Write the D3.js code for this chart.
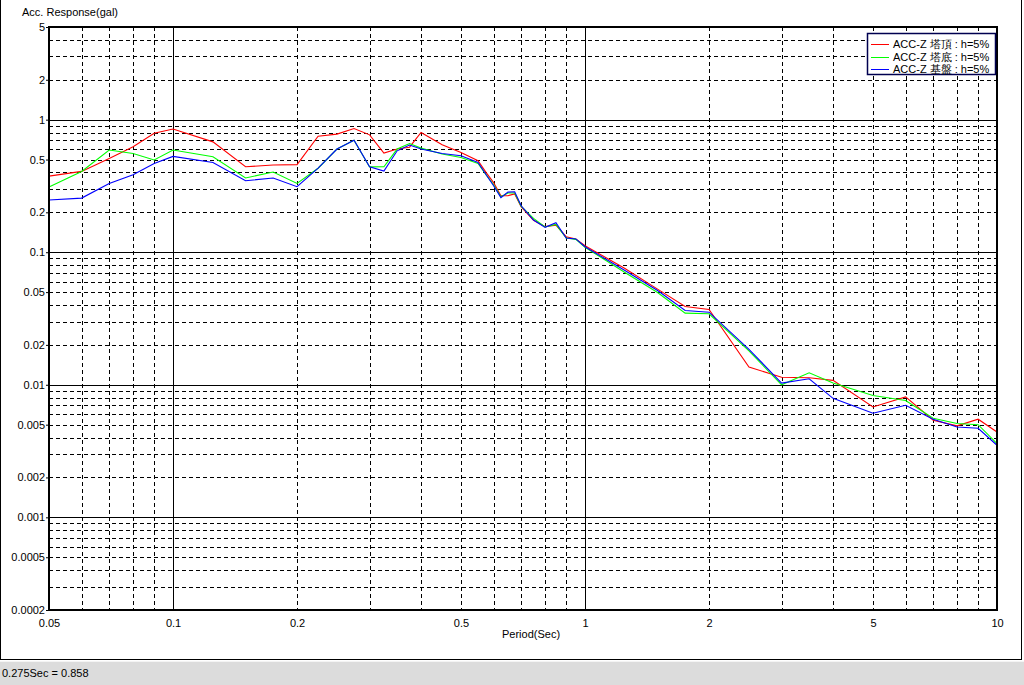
<!DOCTYPE html>
<html>
<head>
<meta charset="utf-8">
<script src="https://cdn.jsdelivr.net/npm/d3@7"></script>
<style>
  html, body { margin: 0; padding: 0; background: #ffffff; }
  svg { display: block; font-family: "Liberation Sans", Arial, sans-serif; }
</style>
</head>
<body>
<svg id="chart" width="1024" height="685"></svg>
<script>
// ---- data ----
const periods = [0.05,0.06,0.07,0.08,0.09,0.1,0.125,0.15,0.175,0.2,0.225,0.25,0.275,0.3,0.325,0.35,0.375,0.4,0.45,0.5,0.55,0.575,0.6,0.625,0.65,0.675,0.7,0.75,0.8,0.85,0.9,0.95,1.0,1.25,1.5,1.75,2.0,2.5,3.0,3.5,4.0,5.0,6.0,7.0,8.0,9.0,10.0];
const topValues = [0.375,0.407,0.51,0.624,0.79,0.85,0.68,0.441,0.455,0.458,0.75,0.778,0.858,0.768,0.56,0.60,0.62,0.80,0.646,0.566,0.49,0.40,0.335,0.267,0.267,0.275,0.22,0.174,0.156,0.16,0.131,0.126,0.112,0.0753,0.0527,0.039,0.037,0.0136,0.0114,0.0113,0.0108,0.0068,0.0081,0.0054,0.0049,0.0055,0.0044];
const baseValues = [0.31,0.407,0.59,0.556,0.496,0.59,0.525,0.363,0.403,0.33,0.43,0.60,0.70,0.44,0.441,0.60,0.66,0.61,0.55,0.519,0.467,0.385,0.323,0.262,0.28,0.28,0.222,0.18,0.155,0.162,0.128,0.125,0.109,0.0703,0.0497,0.0347,0.0343,0.018,0.0100,0.0123,0.0103,0.0083,0.0076,0.0056,0.0051,0.0050,0.0036];
const groundValues = [0.248,0.256,0.33,0.384,0.467,0.528,0.475,0.346,0.363,0.312,0.431,0.60,0.70,0.441,0.41,0.582,0.643,0.60,0.556,0.534,0.475,0.386,0.317,0.258,0.284,0.286,0.224,0.175,0.154,0.167,0.128,0.126,0.110,0.0727,0.0514,0.0363,0.0353,0.0185,0.0103,0.0111,0.0079,0.0061,0.0070,0.0055,0.0048,0.0047,0.0035];
const seriesNames = ["ACC-Z 塔頂 : h=5%", "ACC-Z 塔底 : h=5%", "ACC-Z 基盤 : h=5%"];
const seriesColors = ["#ff0000", "#00ff00", "#0000ff"];
const xTickValues = [0.05,0.1,0.2,0.5,1,2,5,10];
const yTickValues = [5,2,1,0.5,0.2,0.1,0.05,0.02,0.01,0.005,0.002,0.001,0.0005,0.0002];
const yTitle = "Acc. Response(gal)";
const xTitle = "Period(Sec)";
const statusText = "0.275Sec = 0.858";

// ---- layout ----
const svg = d3.select("#chart");
const L = 49, R = 997, T = 27, B = 610;
const x = d3.scaleLog().domain([0.05, 10]).range([L, R]);
const y = d3.scaleLog().domain([0.0002, 5]).range([B, T]);
const px = v => Math.round(v) + 0.5;

// window frame and status bar
svg.append("rect").attr("x", 0).attr("y", 0).attr("width", 1024).attr("height", 685).attr("fill", "#ffffff");
svg.append("rect").attr("x", 0).attr("y", 661).attr("width", 1024).attr("height", 24).attr("fill", "#dcdcdc");
svg.append("line").attr("x1", 0).attr("x2", 1024).attr("y1", 661.5).attr("y2", 661.5).attr("stroke", "#f4f4f4");
svg.append("path").attr("d", "M0.5,0V659.5H1021.5V0").attr("fill", "none").attr("stroke", "#000").attr("stroke-width", 1).attr("shape-rendering", "crispEdges");
svg.append("text").attr("x", 2).attr("y", 677).attr("font-size", 11).attr("fill", "#000").text(statusText);

// grid
const g = svg.append("g").attr("shape-rendering", "crispEdges");
const xGrid = [], yGrid = [];
[0.01, 0.1, 1].forEach(d => { for (let k = 1; k <= 9; k++) { const v = +(k * d).toPrecision(3); if (v > 0.05 && v < 10) xGrid.push({v, major: k === 1}); } });
[0.0001, 0.001, 0.01, 0.1, 1].forEach(d => { for (let k = 1; k <= 9; k++) { const v = +(k * d).toPrecision(3); if (v > 0.0002 && v < 5) yGrid.push({v, major: k === 1}); } });
g.selectAll(".vg").data(xGrid).join("line")
  .attr("x1", d => px(x(d.v))).attr("x2", d => px(x(d.v)))
  .attr("y1", T).attr("y2", B)
  .attr("stroke", "#000").attr("stroke-width", 1)
  .attr("stroke-dasharray", d => d.major ? null : "4,3");
g.selectAll(".hg").data(yGrid).join("line")
  .attr("x1", L).attr("x2", R)
  .attr("y1", d => px(y(d.v))).attr("y2", d => px(y(d.v)))
  .attr("stroke", "#000").attr("stroke-width", 1)
  .attr("stroke-dasharray", d => d.major ? null : "4,3");

// curves
const seriesData = [topValues, baseValues, groundValues];
const line = d3.line().x((d, i) => x(periods[i])).y(d => y(d));
seriesData.forEach((vals, si) => {
  svg.append("path").datum(vals)
    .attr("d", line)
    .attr("fill", "none")
    .attr("stroke", seriesColors[si])
    .attr("stroke-width", 1.1);
});

// plot frame
svg.append("rect").attr("x", L).attr("y", T).attr("width", R - L).attr("height", B - T)
  .attr("fill", "none").attr("stroke", "#000").attr("stroke-width", 2).attr("shape-rendering", "crispEdges");

// axes labels
const yAxis = d3.axisLeft(y).tickValues(yTickValues).tickSize(3).tickPadding(1)
  .tickFormat(d => String(d));
const ya = svg.append("g").attr("transform", `translate(${L},0)`).call(yAxis);
ya.select(".domain").remove();
ya.selectAll("text").attr("font-size", 11).attr("font-family", "Liberation Sans, Arial, sans-serif").attr("fill", "#000");

const xAxis = d3.axisBottom(x).tickValues(xTickValues).tickSize(0).tickPadding(9)
  .tickFormat(d => String(d));
const xa = svg.append("g").attr("transform", `translate(0,${B})`).call(xAxis);
xa.select(".domain").remove();
xa.selectAll("text").attr("font-size", 11).attr("font-family", "Liberation Sans, Arial, sans-serif").attr("fill", "#000");

svg.append("text").attr("x", 22).attr("y", 16).attr("font-size", 11).attr("fill", "#000").text(yTitle);
svg.append("text").attr("x", 502).attr("y", 638).attr("font-size", 11).attr("fill", "#000").text(xTitle);

// legend
const lg = svg.append("g");
lg.append("rect").attr("x", 867.5).attr("y", 33.5).attr("width", 128).attr("height", 41)
  .attr("fill", "#ffffff").attr("stroke", "#000050").attr("stroke-width", 1.5);
seriesNames.forEach((name, i) => {
  const yy = 44 + i * 12.5;
  lg.append("line").attr("x1", 871).attr("x2", 889).attr("y1", Math.round(yy) + 0.5).attr("y2", Math.round(yy) + 0.5)
    .attr("stroke", seriesColors[i]).attr("stroke-width", 1).attr("shape-rendering", "crispEdges");
  lg.append("text").attr("x", 893).attr("y", yy + 4).attr("font-size", 11).attr("fill", "#000").text(name);
});
</script>
</body>
</html>
